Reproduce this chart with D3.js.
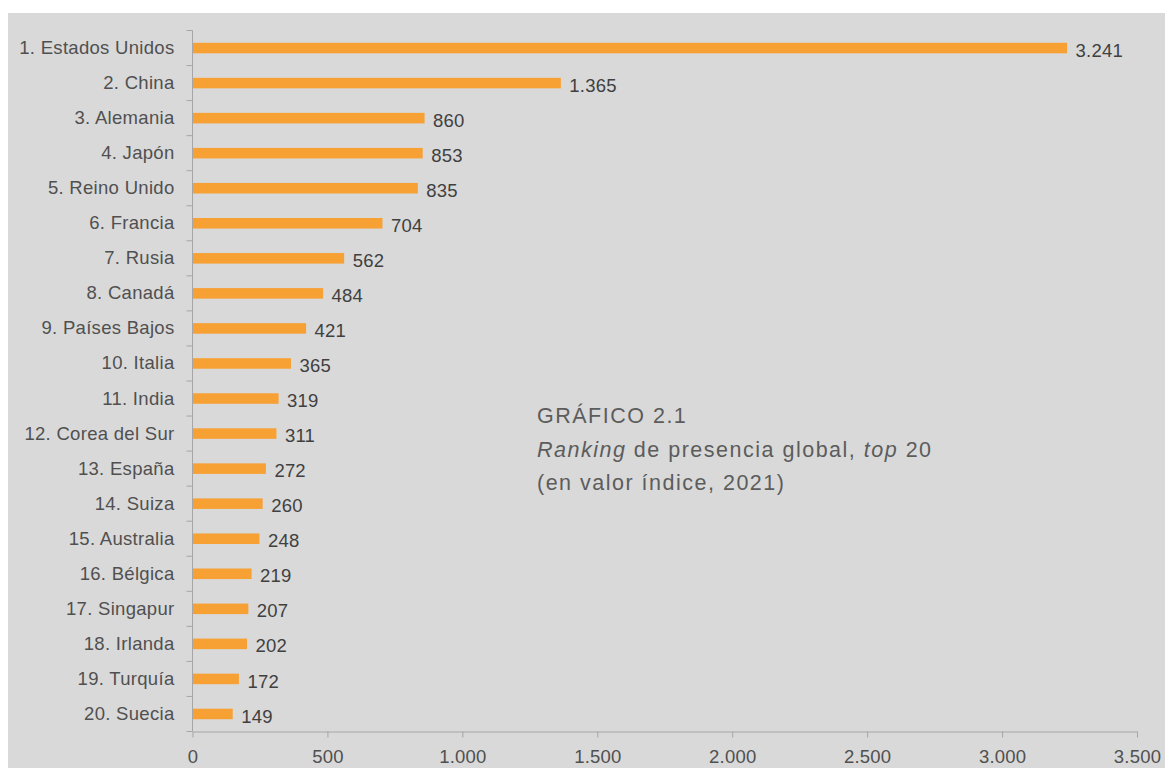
<!DOCTYPE html>
<html><head><meta charset="utf-8">
<script src="https://cdn.jsdelivr.net/npm/d3@7"></script>
<style>body{margin:0;background:#fff;} text{font-family:"Liberation Sans",Arial,sans-serif;}</style>
</head><body><svg id="c" width="1165" height="768"></svg>
<script>
const categories = ["1. Estados Unidos","2. China","3. Alemania","4. Japón","5. Reino Unido","6. Francia","7. Rusia","8. Canadá","9. Países Bajos","10. Italia","11. India","12. Corea del Sur","13. España","14. Suiza","15. Australia","16. Bélgica","17. Singapur","18. Irlanda","19. Turquía","20. Suecia"];
const values = [3241,1365,860,853,835,704,562,484,421,365,319,311,272,260,248,219,207,202,172,149];
const xTicks = [0,500,1000,1500,2000,2500,3000,3500];
const titleLines = ["GRÁFICO 2.1"];

const svg = d3.select("#c");
svg.append("rect").attr("x",8).attr("y",13).attr("width",1157).attr("height",755).attr("fill","#d9d9d9");

const m = {left:192.5, right:1137, top:30.5, bottom:731.5};
const x = d3.scaleLinear().domain([0,3500]).range([m.left,m.right]);
const y = d3.scaleBand().domain(categories).range([m.top,m.bottom]).paddingInner(0.70).paddingOuter(0.35);
const fmt = v => d3.format(",")(v).replace(/,/g,".");
const step = y.step();
const center = d => m.top + (categories.indexOf(d)+0.5)*step;

// bars
svg.append("g").selectAll("rect").data(values).join("rect")
  .attr("x",x(0)).attr("y",(d,i)=>center(categories[i])-y.bandwidth()/2)
  .attr("width",d=>x(d)-x(0)).attr("height",y.bandwidth())
  .attr("fill","#f7a033");

// value labels
svg.append("g").selectAll("text").data(values).join("text")
  .attr("x",d=>x(d)+8.5).attr("y",(d,i)=>center(categories[i])+8.6)
  .attr("font-size",18.5).attr("letter-spacing",0.2).attr("fill","#404040").text(d=>fmt(d));

// y axis
const yAxis = svg.append("g").attr("transform",`translate(${m.left},0)`);
yAxis.append("line").attr("x1",0).attr("x2",0).attr("y1",m.top).attr("y2",m.bottom).attr("stroke","#a6a6a6");
yAxis.selectAll("line.t").data(d3.range(categories.length+1)).join("line").attr("class","t")
  .attr("x1",-6).attr("x2",0).attr("y1",i=>m.top+i*step).attr("y2",i=>m.top+i*step).attr("stroke","#a6a6a6");
yAxis.selectAll("text").data(categories).join("text")
  .attr("x",-18).attr("y",d=>center(d)+6).attr("text-anchor","end")
  .attr("font-size",18.5).attr("letter-spacing",0.3).attr("fill","#505050").text(d=>d);

// x axis
const xAxis = svg.append("g").attr("transform",`translate(0,${m.bottom})`)
  .call(d3.axisBottom(x).tickValues(xTicks).tickSize(6).tickSizeOuter(0).tickPadding(12).tickFormat(fmt));
xAxis.select(".domain").attr("stroke","#a6a6a6");
xAxis.selectAll(".tick line").attr("stroke","#a6a6a6");
xAxis.selectAll(".tick text").attr("font-size",18.5).attr("letter-spacing",0.2).attr("fill","#505050")
  .attr("font-family","Liberation Sans, Arial, sans-serif");

// title block
const t = svg.append("text").attr("x",537).attr("y",423).attr("font-size",21.5).attr("letter-spacing",1.5).attr("fill","#5c5c5c");
t.append("tspan").attr("x",537).text(titleLines[0]);
const l2 = t.append("tspan").attr("x",537).attr("dy",33.5);
l2.append("tspan").attr("font-style","italic").text("Ranking");
l2.append("tspan").text(" de presencia global, ");
l2.append("tspan").attr("font-style","italic").text("top");
l2.append("tspan").text(" 20");
t.append("tspan").attr("x",537).attr("dy",33.5).text("(en valor índice, 2021)");
</script></body></html>
